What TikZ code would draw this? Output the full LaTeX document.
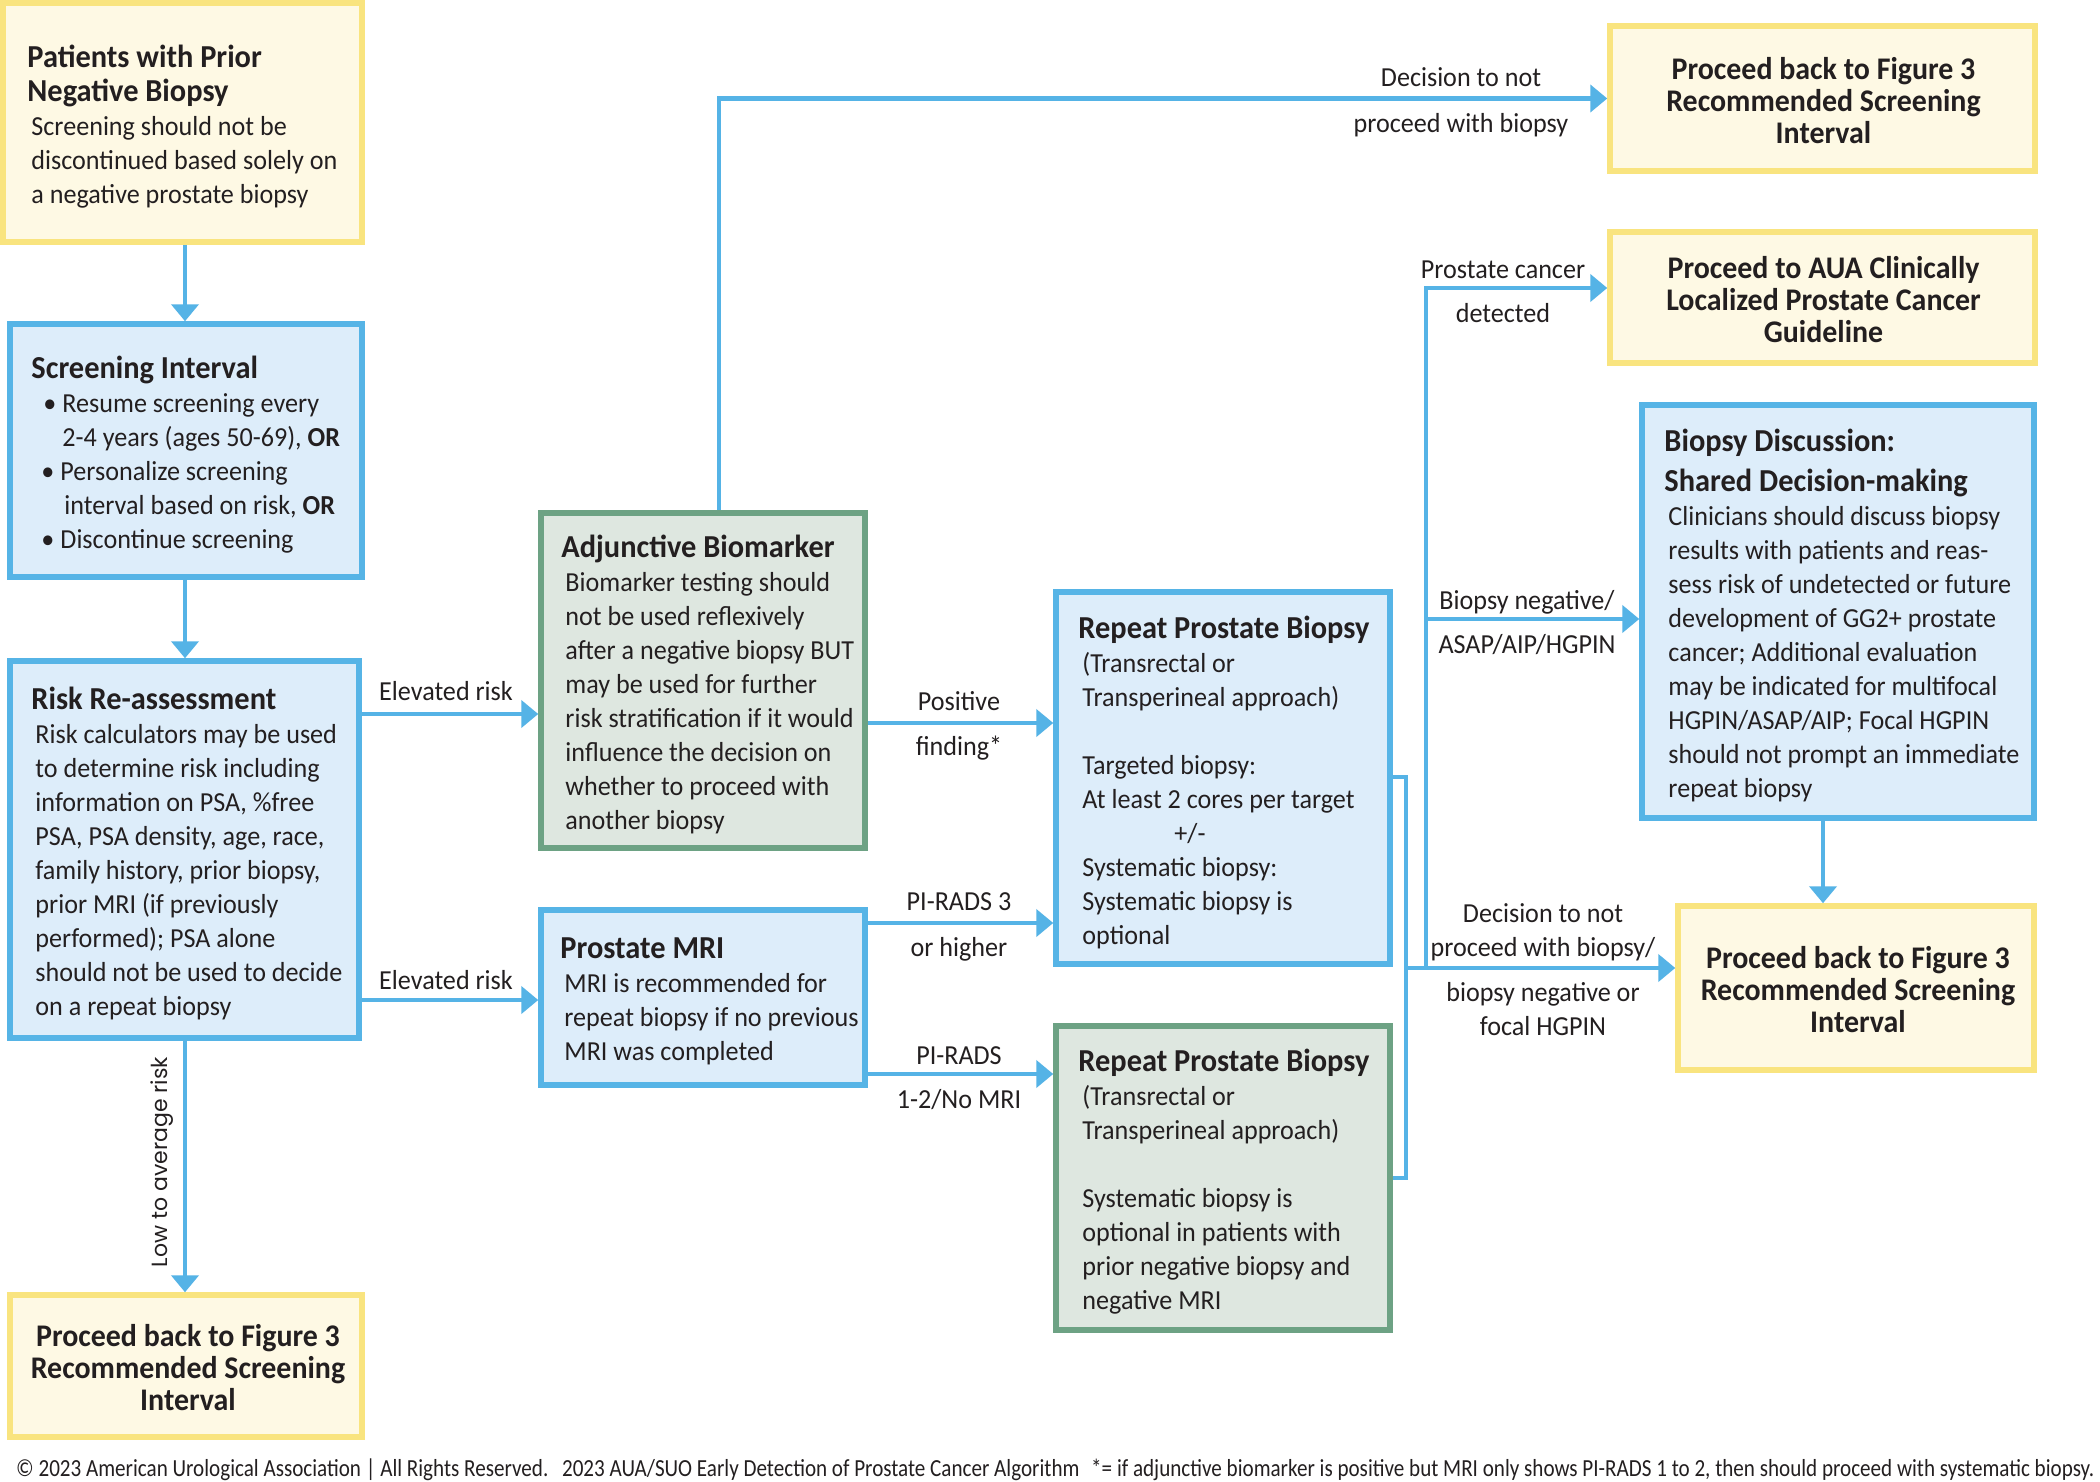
\documentclass[tikz,border=0pt]{standalone}
\usepackage{fontspec}
\setmainfont{Carlito}[FakeStretch=0.95]
\newfontfamily\lowfont{Poppins}
\newfontfamily\footfont{Carlito}[FakeStretch=0.86]
\usetikzlibrary{arrows.meta,calc}
\definecolor{bbord}{HTML}{56B4E6}
\definecolor{bfill}{HTML}{DDEDFA}
\definecolor{ybord}{HTML}{F9E47F}
\definecolor{yfill}{HTML}{FEF9E4}
\definecolor{gbord}{HTML}{6DA284}
\definecolor{gfill}{HTML}{DEE7E0}
\definecolor{lineblue}{HTML}{55B3E6}
\definecolor{ink}{HTML}{231F20}
\newcommand\mybody{\fontsize{27.5}{34}\selectfont}
\newcommand\boxtitle[1]{\hspace*{-4pt}{\fontsize{32}{34}\selectfont\bfseries #1}}
\tikzset{
  boxbase/.style={rectangle, line width=5.5pt, inner sep=0pt, text=ink},
  bbox/.style={boxbase, draw=bbord, fill=bfill},
  gbox/.style={boxbase, draw=gbord, fill=gfill},
  ybox/.style={boxbase, draw=ybord, fill=yfill, align=center,
     font=\fontsize{31.5}{32}\selectfont\bfseries},
  ytext/.style={inner sep=0pt, align=center, text=ink,
     font=\fontsize{31.5}{32}\selectfont\bfseries},
  btext/.style={anchor=west, align=left, inner sep=0pt, text=ink, font=\mybody, yshift=-4pt},
  lbl/.style={inner sep=0pt, text=ink, font=\mybody, text height=19pt, text depth=6pt},
  conn/.style={draw=lineblue, line width=4.5pt},
  arr/.style={conn, -{Triangle[width=27pt,length=17pt]}}
}
\begin{document}
\begin{tikzpicture}[x=1pt,y=-1pt]
\useasboundingbox (0,0) rectangle (2100,1482);
\fill[white] (0,0) rectangle (2100,1482);

% boxes
\node[ybox, minimum width=359pt, minimum height=239pt] (A) at (182.5,122.5) {};
\node[bbox, minimum width=352pt, minimum height=253pt] (B) at (186,450.5) {};
\node[bbox, minimum width=349pt, minimum height=377pt] (C) at (184.5,849.5) {};
\node[ybox, minimum width=352pt, minimum height=142pt] (D) at (186,1366) {};
\node[gbox, minimum width=324pt, minimum height=335pt] (E) at (703,680.5) {};
\node[bbox, minimum width=324pt, minimum height=175pt] (F) at (703,997.5) {};
\node[ybox, minimum width=425pt, minimum height=145pt] (G) at (1822.5,98.5) {};
\node[bbox, minimum width=334pt, minimum height=372pt] (H) at (1223,778) {};
\node[gbox, minimum width=334pt, minimum height=304pt] (I) at (1223,1178) {};
\node[ybox, minimum width=425pt, minimum height=131pt] (K) at (1822.5,297.5) {};
\node[bbox, minimum width=392pt, minimum height=413pt] (L) at (1838,611.5) {};
\node[ybox, minimum width=356pt, minimum height=164pt] (J) at (1856,988) {};

% yellow box texts
\node[ytext] (Dt) at ([xshift=2pt,yshift=-2pt]D.center) {Proceed back to Figure 3\\Recommended Screening\\Interval};
\node[ytext] (Gt) at ([xshift=1pt,yshift=-2pt]G.center) {Proceed back to Figure 3\\Recommended Screening\\Interval};
\node[ytext] (Kt) at ([xshift=1pt,yshift=-2pt]K.center) {Proceed to AUA Clinically\\Localized Prostate Cancer\\Guideline};
\node[ytext] (Jt) at ([xshift=2pt,yshift=-2pt]J.center) {Proceed back to Figure 3\\Recommended Screening\\Interval};

% box texts
\node[btext] (At) at ([xshift=31pt]A.west) {\boxtitle{Patients with Prior}\\\boxtitle{Negative Biopsy}\\Screening should not be\\discontinued based solely on\\a negative prostate biopsy};
\node[btext] (Bt) at ([xshift=28pt]B.west) {\boxtitle{Screening Interval}\\
\hspace*{8pt}\textbullet\hspace{6pt}Resume screening every\\
\hspace*{27pt}2-4 years (ages 50-69), \textbf{OR}\\
\hspace*{6pt}\textbullet\hspace{6pt}Personalize screening\\
\hspace*{29pt}interval based on risk, \textbf{OR}\\
\hspace*{6pt}\textbullet\hspace{6pt}Discontinue screening};
\node[btext] (Ct) at ([xshift=28pt]C.west) {\boxtitle{Risk Re-assessment}\\Risk calculators may be used\\to determine risk including\\information on PSA, \%free\\PSA, PSA density, age, race,\\family history, prior biopsy,\\prior MRI (if previously\\performed); PSA alone\\should not be used to decide\\on a repeat biopsy};
\node[btext] (Et) at ([xshift=27pt]E.west) {\boxtitle{Adjunctive Biomarker}\\Biomarker testing should\\not be used reflexively\\after a negative biopsy BUT\\may be used for further\\risk stratification if it would\\influence the decision on\\whether to proceed with\\another biopsy};
\node[btext] (Ft) at ([xshift=26pt]F.west) {\boxtitle{Prostate MRI}\\MRI is recommended for\\repeat biopsy if no previous\\MRI was completed};
\node[btext] (Ht) at ([xshift=29pt]H.west) {\boxtitle{Repeat Prostate Biopsy}\\(Transrectal or\\Transperineal approach)\\[34pt]Targeted biopsy:\\At least 2 cores per target\\\hspace*{92pt}+/-\\Systematic biopsy:\\Systematic biopsy is\\optional};
\node[btext] (It) at ([xshift=29pt]I.west) {\boxtitle{Repeat Prostate Biopsy}\\(Transrectal or\\Transperineal approach)\\[34pt]Systematic biopsy is\\optional in patients with\\prior negative biopsy and\\negative MRI};
\node[btext] (Lt) at ([xshift=29pt]L.west) {\boxtitle{Biopsy Discussion:}\\[6pt]\boxtitle{Shared Decision-making}\\Clinicians should discuss biopsy\\results with patients and reas-\\sess risk of undetected or future\\development of GG2+ prostate\\cancer; Additional evaluation\\may be indicated for multifocal\\HGPIN/ASAP/AIP; Focal HGPIN\\should not prompt an immediate\\repeat biopsy};

% connectors
\coordinate (brk) at (1406,968);
\coordinate (trk) at (1426,968);
\draw[arr] (A.south -| 185,0) -- (B.north -| 185,0);
\draw[arr] (B.south -| 185,0) -- (C.north -| 185,0);
\draw[arr] (C.south -| 185,0) -- (D.north -| 185,0);
\draw[arr] (C.east |- 0,714) -- (E.west |- 0,714);
\draw[arr] (C.east |- 0,1000) -- (F.west |- 0,1000);
\draw[arr] (E.north -| 719,0) |- (G.west);
\draw[arr] (E.east |- 0,723) -- (H.west |- 0,723);
\draw[arr] (F.east |- 0,923) -- (H.west |- 0,923);
\draw[arr] (F.east |- 0,1074) -- (I.west |- 0,1074);
\draw[conn] (H.east |- 0,777) -| (brk) |- (I.east);
\draw[arr] (brk) -- (brk -| J.west);
\draw[arr] (trk) |- (K.west |- 0,288);
\draw[arr] (trk |- 0,619) -- (L.west |- 0,619);
\draw[arr] (L.south -| 1823,0) -- (J.north -| 1823,0);

% labels
\node[lbl] (l1) at (446,694) {Elevated risk};
\node[lbl] (l2) at (446,983) {Elevated risk};
\node[rotate=90, inner sep=0pt, text=ink, font=\lowfont\fontsize{22}{24}\selectfont] (llow) at (162,1162) {Low to average risk};
\node[lbl] (l3a) at (1461,80) {Decision to not};
\node[lbl] (l3b) at (1461,126) {proceed with biopsy};
\node[lbl] (l4a) at (959,704) {Positive};
\node[lbl] (l4b) at (959,749) {finding*};
\node[lbl] (l5a) at (959,904) {PI-RADS 3};
\node[lbl] (l5b) at (959,950) {or higher};
\node[lbl] (l6a) at (959,1058) {PI-RADS};
\node[lbl] (l6b) at (959,1102) {1-2/No MRI};
\node[lbl] (l7a) at (1503,272) {Prostate cancer};
\node[lbl] (l7b) at (1503,316) {detected};
\node[lbl] (l8a) at (1527,603) {Biopsy negative/};
\node[lbl] (l8b) at (1527,647) {ASAP/AIP/HGPIN};
\node[lbl] (l9a) at (1543,916) {Decision to not};
\node[lbl] (l9b) at (1543,950) {proceed with biopsy/};
\node[lbl] (l9c) at (1543,995) {biopsy negative or};
\node[lbl] (l9d) at (1543,1029) {focal HGPIN};

% footer
\node[anchor=west, inner sep=0pt, text=ink] (foot) at (16,1470) {\resizebox{2078pt}{!}{\footfont\fontsize{25}{28}\selectfont \textcopyright\ 2023 American Urological Association | All Rights Reserved.\hspace{14pt}2023 AUA/SUO Early Detection of Prostate Cancer Algorithm\hspace{12pt}*= if adjunctive biomarker is positive but MRI only shows PI-RADS 1 to 2, then should proceed with systematic biopsy.}};
\end{tikzpicture}
\end{document}
